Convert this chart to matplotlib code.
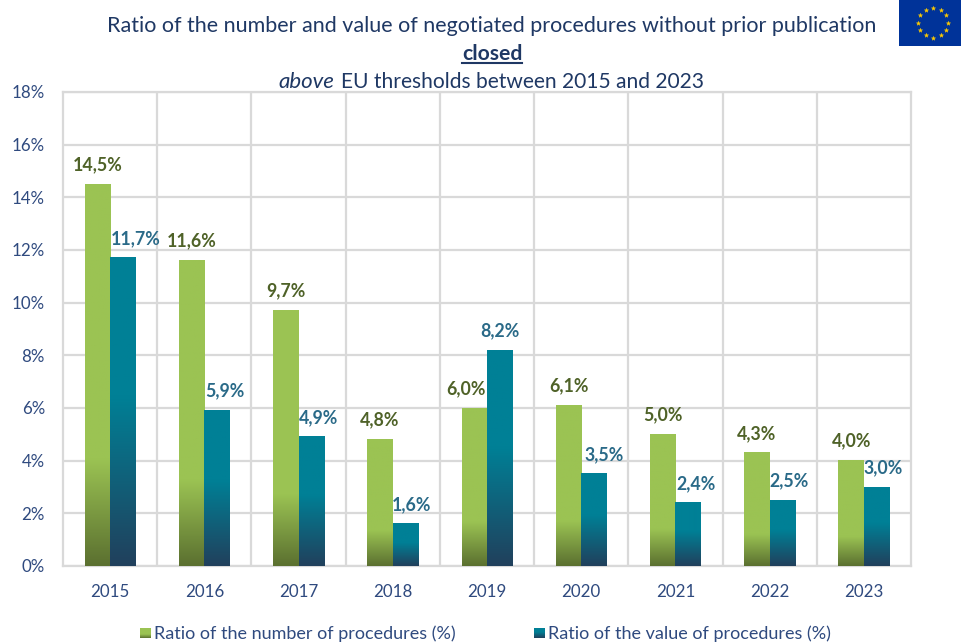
#!/usr/bin/env python3
"""Negotiated procedures without prior publication, 2015-2023."""

import matplotlib

matplotlib.use("Agg")
import matplotlib.pyplot as plt
import numpy as np
from matplotlib.colors import LinearSegmentedColormap
from matplotlib.lines import Line2D

years = ["2015", "2016", "2017", "2018", "2019", "2020", "2021", "2022", "2023"]
number_ratio = [14.5, 11.6, 9.7, 4.8, 6.0, 6.1, 5.0, 4.3, 4.0]
value_ratio = [11.7, 5.9, 4.9, 1.6, 8.2, 3.5, 2.4, 2.5, 3.0]
y_ticks = [0, 2, 4, 6, 8, 10, 12, 14, 16, 18]

W, H = 961, 642
NAVY = "#1f3864"
TICK = "#2f4a7f"
GRID = "#d9d9d9"
GREEN_TXT = "#4f6228"
TEAL_TXT = "#2a6a88"

plt.rcParams["font.family"] = ["Lato", "DejaVu Sans"]


def px(x, y):
    return x / W, 1 - y / H


def gradient(ax, x0, x1, y0, y1, bottom, top, share):
    # bottom colour fades to the flat top colour over `share` of the height
    cmap = LinearSegmentedColormap.from_list("g", [(0, bottom), (share, top), (1, top)])
    grad = np.linspace(0, 1, 256).reshape(-1, 1)
    ax.imshow(grad, extent=(x0, x1, y0, y1), origin="lower", aspect="auto", cmap=cmap, zorder=3)


def main() -> None:
    fig = plt.figure(figsize=(W / 100, H / 100), dpi=100)
    left, right, top, bottom = 63, 911, 92, 566
    ax = fig.add_axes([left / W, 1 - bottom / H, (right - left) / W, (bottom - top) / H])

    x = np.arange(len(years))
    width = 0.27
    green = ax.bar(x - width / 2, number_ratio, width, color="#9bc353", zorder=2)
    teal = ax.bar(x + width / 2, value_ratio, width, color="#008096", zorder=2)

    for bar in green:
        gradient(ax, bar.get_x(), bar.get_x() + bar.get_width(), 0, bar.get_height(), "#5b7030", "#9bc353", 0.28)
    for bar in teal:
        gradient(ax, bar.get_x(), bar.get_x() + bar.get_width(), 0, bar.get_height(), "#21405c", "#008096", 0.55)

    # labels are nudged off the bars in the original, value side mostly to the right
    green_dx = [0, 0, 0, 0, -8, 0, 0, 0, 0]
    teal_dx = [13, 8, 7, 6, 0, 10, 8, 7, 6]
    for i, v in enumerate(number_ratio):
        ax.annotate(f"{v:.1f}".replace(".", ",") + "%", (x[i] - width / 2, v), xytext=(green_dx[i] * 0.72, 14),
                    textcoords="offset points", ha="center", va="center", fontsize=12.8,
                    fontweight="bold", color=GREEN_TXT, zorder=5)
    for i, v in enumerate(value_ratio):
        ax.annotate(f"{v:.1f}".replace(".", ",") + "%", (x[i] + width / 2, v), xytext=(teal_dx[i] * 0.72, 14),
                    textcoords="offset points", ha="center", va="center", fontsize=12.8,
                    fontweight="bold", color=TEAL_TXT, zorder=5)

    ax.set_xlim(-0.5, len(years) - 0.5)
    ax.set_ylim(0, 18)
    ax.set_xticks(x, years)
    ax.set_yticks(y_ticks, [f"{t}%" for t in y_ticks])
    ax.set_xticks(x[:-1] + 0.5, minor=True)
    ax.grid(axis="y", color=GRID, lw=1.6, zorder=0)
    ax.grid(axis="x", which="minor", color=GRID, lw=1.6, zorder=0)
    ax.set_axisbelow(True)
    ax.tick_params(which="both", length=0)
    ax.tick_params(axis="x", labelsize=12.2, labelcolor=TICK, pad=13)
    ax.tick_params(axis="y", labelsize=12.2, labelcolor=TICK, pad=13)
    for s in ax.spines.values():
        s.set_color(GRID)
        s.set_linewidth(1.6)

    # title, three lines
    fig.text(*px(492, 26), "Ratio of the number and value of negotiated procedures without prior publication",
             ha="center", va="center", fontsize=15.5, color=NAVY)
    fig.text(*px(492, 54), "closed", ha="center", va="center", fontsize=15.2, fontweight="bold", color=NAVY)
    fig.add_artist(Line2D([462 / W, 522 / W], [1 - 63 / H, 1 - 63 / H], color=NAVY, lw=1.5))
    fig.text(*px(334, 82), "above", ha="right", va="center", fontsize=16, style="italic", color=NAVY)
    fig.text(*px(341, 82), "EU thresholds between 2015 and 2023", ha="left", va="center", fontsize=15.1, color=NAVY)

    # legend
    for lx, label, c0, c1, share in [
        (140, "Ratio of the number of procedures (%)", "#5b7030", "#9bc353", 0.35),
        (534, "Ratio of the value of procedures (%)", "#21405c", "#008096", 0.55),
    ]:
        lax = fig.add_axes([lx / W, 1 - 638 / H, 10 / W, 10 / H])
        gradient(lax, 0, 1, 0, 1, c0, c1, share)
        lax.axis("off")
        fig.text(*px(lx + 14, 633.5), label, ha="left", va="center", fontsize=13, color=TICK)

    # EU flag
    flag = fig.add_axes([899 / W, 1 - 46 / H, 62 / W, 46 / H])
    flag.set_facecolor("#003399")
    flag.set_xlim(899, 961)
    flag.set_ylim(46, 0)
    flag.set_xticks([])
    flag.set_yticks([])
    for s in flag.spines.values():
        s.set_visible(False)
    angles = np.deg2rad(np.arange(0, 360, 30))
    flag.scatter(933 + 15 * np.cos(angles), 22.5 + 15 * np.sin(angles), s=10, marker="*", color="#ffcc00", linewidths=0.3)

    fig.savefig("out.png", dpi=100)


if __name__ == "__main__":
    main()
